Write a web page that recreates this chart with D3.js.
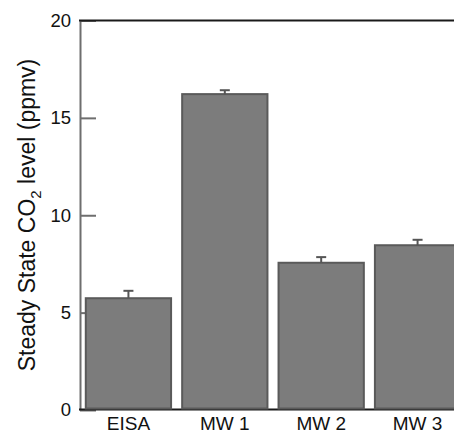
<!DOCTYPE html>
<html>
<head>
<meta charset="utf-8">
<script src="https://cdn.jsdelivr.net/npm/d3@7"></script>
<style>
    body { margin: 0; background: #fff; }
    svg { display: block; font-family: "Liberation Sans", Arial, sans-serif; }
</style>
</head>
<body>
<div id="chart"></div>
<script>
/* ----------------------------------------------------- Data ------------------------------------------------------------------------- */

const categories = ["EISA", "MW 1", "MW 2", "MW 3"];
const co2Levels = [5.74, 16.22, 7.56, 8.46];
const co2Errors = [0.38, 0.2, 0.29, 0.28];
const yTicks = [0, 5, 10, 15, 20];

/* ----------------------------------------------------- Bar chart -------------------------------------------------------------------- */

function drawBarChart() {
    const svgWidth = 454;
    const svgHeight = 435;
    const margin = { top: 20.5, left: 80, bottom: 25 };

    const svg = d3.select('#chart').append('svg')
        .attr('width', svgWidth)
        .attr('height', svgHeight);

    const xScale = d3.scaleBand()
        .domain(categories)
        .range([margin.left, margin.left + 386])
        .paddingInner(0.115)
        .paddingOuter(0.06);

    const yScale = d3.scaleLinear()
        .domain([0, 20])
        .range([svgHeight - margin.bottom, margin.top]);

    // left axis with inward ticks
    const yAxis = svg.append('g')
        .attr('transform', `translate(${margin.left}, 0)`)
        .call(d3.axisLeft(yScale).tickValues(yTicks).tickSizeInner(-16).tickSizeOuter(0).tickPadding(9));
    yAxis.select('.domain').attr('stroke', '#6e6e6e').attr('stroke-width', 2);
    yAxis.selectAll('.tick line').attr('stroke', '#6e6e6e').attr('stroke-width', 2);
    yAxis.selectAll('.tick text')
        .attr('fill', '#111')
        .style('font-size', '18.5px')
        .style('font-family', '"Liberation Sans", Arial, sans-serif');

    // top frame line
    svg.append('line')
        .attr('x1', margin.left - 1)
        .attr('x2', svgWidth)
        .attr('y1', yScale(20))
        .attr('y2', yScale(20))
        .attr('stroke', '#1a1a1a')
        .attr('stroke-width', 2);

    // baseline
    svg.append('line')
        .attr('x1', margin.left - 1)
        .attr('x2', svgWidth)
        .attr('y1', yScale(0) - 0.5)
        .attr('y2', yScale(0) - 0.5)
        .attr('stroke', '#1a1a1a')
        .attr('stroke-width', 2);

    // bars
    svg.selectAll('.bar')
        .data(categories)
        .enter()
        .append('rect')
        .attr('class', 'bar')
        .attr('x', d => xScale(d))
        .attr('y', (d, i) => yScale(co2Levels[i]))
        .attr('width', xScale.bandwidth())
        .attr('height', (d, i) => yScale(0) - 1.5 - yScale(co2Levels[i]))
        .attr('fill', '#7c7c7c')
        .attr('stroke', '#5a5a5a')
        .attr('stroke-width', 2);

    // upper error bars
    const errors = svg.selectAll('.error')
        .data(categories)
        .enter()
        .append('g')
        .attr('class', 'error')
        .attr('stroke', '#555')
        .attr('stroke-width', 2);
    errors.append('line')
        .attr('x1', d => xScale(d) + xScale.bandwidth() / 2)
        .attr('x2', d => xScale(d) + xScale.bandwidth() / 2)
        .attr('y1', (d, i) => yScale(co2Levels[i]))
        .attr('y2', (d, i) => yScale(co2Levels[i] + co2Errors[i]));
    errors.append('line')
        .attr('x1', d => xScale(d) + xScale.bandwidth() / 2 - 5)
        .attr('x2', d => xScale(d) + xScale.bandwidth() / 2 + 5)
        .attr('y1', (d, i) => yScale(co2Levels[i] + co2Errors[i]))
        .attr('y2', (d, i) => yScale(co2Levels[i] + co2Errors[i]));

    // category labels
    svg.selectAll('.cat-label')
        .data(categories)
        .enter()
        .append('text')
        .attr('class', 'cat-label')
        .attr('x', d => xScale(d) + xScale.bandwidth() / 2)
        .attr('y', svgHeight - 5)
        .attr('text-anchor', 'middle')
        .attr('fill', '#111')
        .style('font-size', '19px')
        .text(d => d);

    // y axis title
    const title = svg.append('text')
        .attr('transform', `translate(35, 215) rotate(-90)`)
        .attr('text-anchor', 'middle')
        .attr('fill', '#111')
        .style('font-size', '23px');
    title.append('tspan').text('Steady State CO');
    title.append('tspan').attr('dy', 6).style('font-size', '15px').text('2');
    title.append('tspan').attr('dy', -6).text(' level (ppmv)');
}

drawBarChart();
</script>
</body>
</html>
